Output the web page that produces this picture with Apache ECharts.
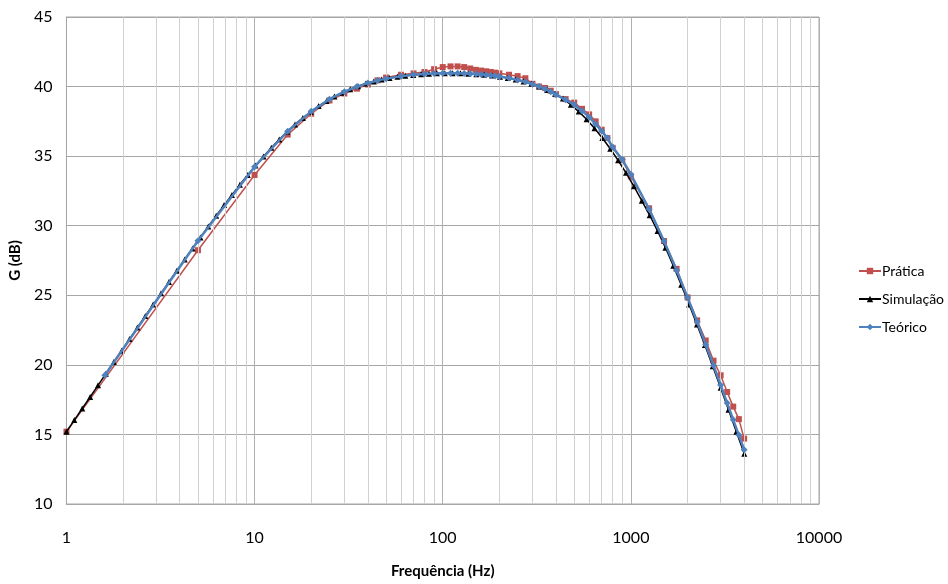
<!DOCTYPE html>
<html>
<head>
<meta charset="utf-8">
<script src="https://cdn.jsdelivr.net/npm/echarts@6/dist/echarts.min.js"></script>
<style>
html,body{margin:0;padding:0;background:#fff;}
#chart{width:948px;height:584px;}
</style>
</head>
<body>
<div id="chart"></div>
<script>
// ---- data ----
var praticaFreq = [1,5,10,15,20,25,30,35,40,45,50,60,70,80,90,100,110,120,130,140,150,160,170,180,190,200,225,250,275,300,325,350,375,400,450,500,550,600,650,700,750,800,900,1000,1250,1500,1750,2000,2250,2500,2750,3000,3250,3500,3750,4000];
var praticaG = [15.2,28.24,33.65,36.55,38.05,39.0,39.5,39.85,40.15,40.45,40.65,40.85,40.95,41.05,41.25,41.4,41.45,41.45,41.4,41.3,41.2,41.15,41.1,41.05,41.0,40.95,40.85,40.75,40.6,40.2,40.0,39.9,39.7,39.45,39.1,38.85,38.4,38.0,37.5,36.9,36.3,35.6,34.7,33.55,31.25,28.9,26.9,24.85,23.2,21.75,20.3,19.25,18.05,17.0,16.1,14.7];

var simFreq = [1,1.101,1.213,1.336,1.471,1.62,1.784,1.964,2.163,2.382,2.624,2.889,3.182,3.504,3.859,4.25,4.68,5.154,5.676,6.251,6.884,7.581,8.349,9.194,10.12,11.15,12.28,13.52,14.89,16.4,18.06,19.89,21.9,24.12,26.57,29.26,32.21,35.47,39.07,43.02,47.38,52.18,57.46,63.28,69.68,76.74,84.52,93.07,102.5,112.9,124.3,136.9,150.8,166,182.9,201.4,221.7,244.2,268.9,296.1,326.1,359.1,395.5,435.5,479.7,528.3,581.7,640.6,705.5,777,855.6,942.3,1038,1143,1259,1386,1527,1681,1851,2039,2245,2473,2723,2999,3303,3637,4006];
var simG = [15.19,16.03,16.86,17.69,18.53,19.36,20.2,21.02,21.85,22.68,23.51,24.33,25.14,25.96,26.77,27.58,28.37,29.16,29.94,30.72,31.48,32.21,32.94,33.64,34.32,34.98,35.6,36.19,36.75,37.28,37.75,38.19,38.6,38.96,39.28,39.56,39.81,40.03,40.22,40.37,40.5,40.62,40.71,40.78,40.84,40.89,40.92,40.95,40.96,40.96,40.95,40.93,40.89,40.85,40.79,40.71,40.62,40.51,40.37,40.2,40.0,39.76,39.48,39.14,38.7,38.2,37.65,37.01,36.3,35.53,34.7,33.8,32.83,31.8,30.75,29.62,28.42,27.12,25.76,24.34,22.9,21.42,19.9,18.35,16.78,15.2,13.62];

var teoFreq = [1.6,5,10,15,20,25,30,35,40,45,50,60,70,80,90,100,110,120,130,140,150,160,170,180,190,200,225,250,275,300,325,350,375,400,450,500,550,600,650,700,750,800,900,1000,1250,1500,1750,2000,2250,2500,2750,3000,3250,3500,3750,4000];
var teoG = [19.25,28.92,34.24,36.79,38.22,39.09,39.63,40.0,40.25,40.44,40.57,40.74,40.85,40.91,40.94,40.95,40.96,40.95,40.94,40.92,40.9,40.87,40.83,40.8,40.76,40.72,40.61,40.48,40.35,40.17,40.0,39.83,39.63,39.42,39.05,38.7,38.25,37.8,37.3,36.8,36.3,35.65,34.75,33.7,31.2,28.9,26.8,24.85,23.1,21.45,19.95,18.55,17.25,16.05,14.95,13.9];

var seriesNames = ['Prática','Simulação','Teórico'];
var minorGridX = [2,3,4,5,6,7,8,9,20,30,40,50,60,70,80,90,200,300,400,500,600,700,800,900,2000,3000,4000,5000,6000,7000,8000,9000];
var yMin = 10, yMax = 45, yStep = 5;
var xMin = 1, xMax = 10000;
var xTitle = 'Frequência (Hz)';
var yTitle = 'G (dB)';

function pairs(xs, ys){ return xs.map(function(x,i){ return [x, ys[i]]; }); }

var FONT = 'Lato, "Open Sans", sans-serif';
var chart = echarts.init(document.getElementById('chart'), null, {renderer:'canvas'});
chart.setOption({
  animation:false,
  backgroundColor:'#ffffff',
  textStyle:{fontFamily:FONT},
  grid:{left:66, right:129, top:17, bottom:78, show:true, borderColor:'#a6a6a6', borderWidth:1, containLabel:false},
  legend:{
    orient:'vertical', left:853, top:259, itemGap:14, itemWidth:22, itemHeight:8,
    textStyle:{fontSize:14, color:'#000', fontFamily:FONT, padding:[0,0,0,-4]},
    data:seriesNames
  },
  xAxis:{
    type:'log', logBase:10, min:xMin, max:xMax,
    name:xTitle, nameLocation:'middle', nameGap:60,
    nameTextStyle:{fontSize:15, fontWeight:'bold', color:'#000', fontFamily:FONT},
    axisLine:{show:true, lineStyle:{color:'#a6a6a6'}},
    axisTick:{show:false},
    axisLabel:{fontSize:16, color:'#000', margin:26, fontFamily:FONT, formatter:function(v){ return String(Math.round(v)); }},
    splitLine:{show:true, lineStyle:{color:'#b0b0b0', width:1}}
  },
  yAxis:{
    type:'value', min:yMin, max:yMax, interval:yStep,
    name:yTitle, nameLocation:'middle', nameGap:40, nameRotate:90,
    nameTextStyle:{fontSize:15, fontWeight:'bold', color:'#000', fontFamily:FONT},
    axisLine:{show:true, lineStyle:{color:'#a6a6a6'}},
    axisTick:{show:false},
    axisLabel:{fontSize:16, color:'#000', margin:14, fontFamily:FONT},
    splitLine:{show:true, lineStyle:{color:'#a6a6a6', width:1}}
  },
  series:[
    {
      name:seriesNames[0], type:'line', data:pairs(praticaFreq, praticaG),
      symbol:'rect', symbolSize:6, showAllSymbol:true,
      lineStyle:{color:'#C0504D', width:1.5}, itemStyle:{color:'#C0504D'},
      markLine:{
        silent:true, symbol:['none','none'], label:{show:false},
        lineStyle:{color:'#d0d0d0', type:'solid', width:1},
        emphasis:{disabled:true},
        data:minorGridX.map(function(v){ return {xAxis:v}; })
      },
      z:3
    },
    {
      name:seriesNames[1], type:'line', data:pairs(simFreq, simG),
      symbol:'triangle', symbolSize:6, showAllSymbol:true,
      lineStyle:{color:'#000000', width:1.5}, itemStyle:{color:'#000000'}, z:4
    },
    {
      name:seriesNames[2], type:'line', data:pairs(teoFreq, teoG),
      symbol:'diamond', symbolSize:7, showAllSymbol:true,
      lineStyle:{color:'#4F81BD', width:2.5}, itemStyle:{color:'#4F81BD'}, z:5
    }
  ]
});
</script>
</body>
</html>
